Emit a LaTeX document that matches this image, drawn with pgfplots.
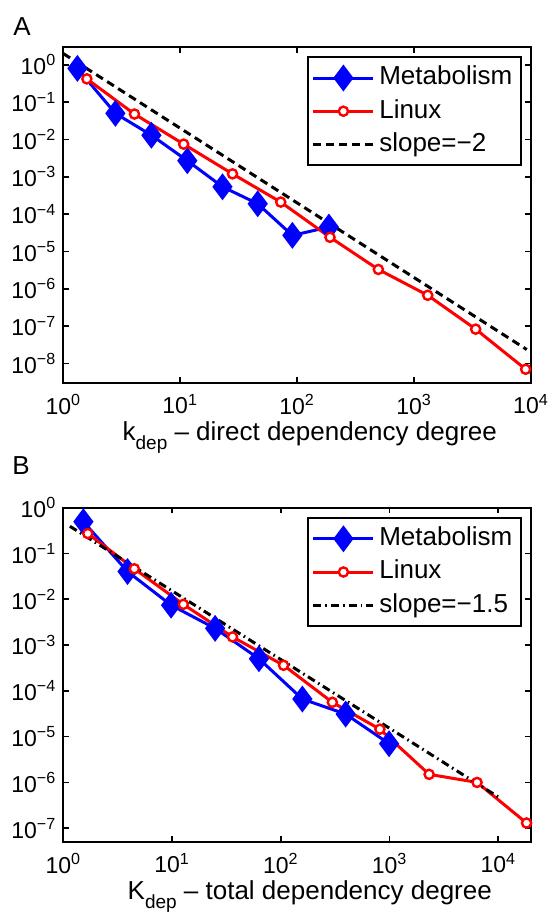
\documentclass[border=0pt]{standalone}
\usepackage{fontspec}
\setmainfont{Liberation Sans}
\usepackage{pgfplots}
\pgfplotsset{compat=1.18}
\pgfplotsset{
  metab/.style={color=blue, line width=1.5pt, mark=diamond*, mark size=5.5pt, mark options={solid, fill=blue}},
  linux/.style={color=red, line width=1.5pt, mark=*, mark size=2.3pt, mark options={solid, fill=white, line width=1.2pt}},
}
\newcommand{\sub}[1]{\raisebox{-4.5pt}{\fontsize{9.5}{10}\selectfont #1}}
\begin{document}
\begin{tikzpicture}
\useasboundingbox (0pt,0pt) rectangle (277pt,-456.5pt);
% Panel A
\begin{axis}[at={(31.65pt,-23.5pt)}, anchor=north west,
  scale only axis, width=233.85pt, height=168pt,
  xmode=log, ymode=log, log basis x=10, log basis y=10,
  axis line style={line width=1pt},
  tick align=inside,
  major tick length=3pt, minor tick length=1.8pt,
  every tick/.style={black, line width=0.8pt},
  yminorticks=false,
  tick label style={font=\fontsize{11.5}{13}\selectfont},
  xticklabel style={yshift=-2pt},
  label style={font=\fontsize{13}{15}\selectfont},
  xlabel style={at={(axis description cs:0.527,0)}, anchor=north, yshift=-15.7pt},
  legend style={font=\fontsize{13}{15}\selectfont, draw=black, line width=1pt,
    at={(0.98,0.972)}, anchor=north east,
    inner xsep=2pt, inner ysep=2pt,
    nodes={inner sep=2.2pt, text height=9.5pt, text depth=2.7pt}},
  legend cell align=left,
  legend image code/.code={\draw[mark repeat=2,mark phase=2,#1] plot coordinates {(0pt,0pt)(15pt,0pt)(30pt,0pt)};},
  xmin=1, xmax=10000, ymin=3e-9, ymax=3,
  xtick={1,10,100,1000,10000},
  xticklabels={10\textsuperscript{0},10\textsuperscript{1},10\textsuperscript{2},10\textsuperscript{3},10\textsuperscript{4}},
  ytick={1e-8,1e-7,1e-6,1e-5,1e-4,1e-3,1e-2,1e-1,1},
  yticklabels={10\textsuperscript{−8},10\textsuperscript{−7},10\textsuperscript{−6},10\textsuperscript{−5},10\textsuperscript{−4},10\textsuperscript{−3},10\textsuperscript{−2},10\textsuperscript{−1},10\textsuperscript{0}},
  xlabel={k\sub{dep} – direct dependency degree},
]
\addplot[metab] coordinates {(1.32,0.8) (2.79,0.05) (5.67,0.013) (11.5,0.0027) (23,5.4e-4) (46,1.9e-4) (91,2.7e-5) (187,4.5e-5)};
\addlegendentry{Metabolism}
\addplot[linux] coordinates {(1.59,0.42) (4.06,0.048) (10.7,0.0075) (28,1.2e-3) (72.4,2.1e-4) (191,2.4e-5) (495,3.3e-6) (1309,6.7e-7) (3365,8.3e-8) (9000,7e-9)};
\addlegendentry{Linux}
\addplot[black, line width=1.5pt, dash pattern=on 4pt off 2.5pt] coordinates {(1,2) (9200,2.36e-8)};
\addlegendentry{slope=−2}
\end{axis}
\node[font=\fontsize{13}{15}\selectfont] at (11pt,-13.25pt) {A};
% Panel B
\begin{axis}[at={(31.65pt,-253.75pt)}, anchor=north west,
  scale only axis, width=233.85pt, height=167.25pt,
  xmode=log, ymode=log, log basis x=10, log basis y=10,
  axis line style={line width=1pt},
  tick align=inside,
  major tick length=3pt, minor tick length=1.8pt,
  every tick/.style={black, line width=0.8pt},
  yminorticks=false,
  tick label style={font=\fontsize{11.5}{13}\selectfont},
  xticklabel style={yshift=-2pt},
  label style={font=\fontsize{13}{15}\selectfont},
  xlabel style={at={(axis description cs:0.527,0)}, anchor=north, yshift=-15.7pt},
  legend style={font=\fontsize{13}{15}\selectfont, draw=black, line width=1pt,
    at={(0.98,0.971)}, anchor=north east,
    inner xsep=2pt, inner ysep=2pt,
    nodes={inner sep=2.2pt, text height=9.5pt, text depth=2.7pt}},
  legend cell align=left,
  legend image code/.code={\draw[mark repeat=2,mark phase=2,#1] plot coordinates {(0pt,0pt)(15pt,0pt)(30pt,0pt)};},
  xmin=1, xmax=20000, ymin=5e-8, ymax=1,
  xtick={1,10,100,1000,10000},
  xticklabels={10\textsuperscript{0},10\textsuperscript{1},10\textsuperscript{2},10\textsuperscript{3},10\textsuperscript{4}},
  ytick={1e-7,1e-6,1e-5,1e-4,1e-3,1e-2,1e-1,1},
  yticklabels={10\textsuperscript{−7},10\textsuperscript{−6},10\textsuperscript{−5},10\textsuperscript{−4},10\textsuperscript{−3},10\textsuperscript{−2},10\textsuperscript{−1},10\textsuperscript{0}},
  xlabel={K\sub{dep} – total dependency degree},
]
\addplot[metab] coordinates {(1.53,0.49) (3.9,0.04) (9.8,0.0074) (24.9,0.0023) (63,5e-4) (158,6.6e-5) (395,3.1e-5) (990,7e-6)};
\addlegendentry{Metabolism}
\addplot[linux] coordinates {(1.68,0.27) (4.5,0.046) (12.7,0.0077) (36,0.0015) (106,3.6e-4) (298,5.6e-5) (815,1.45e-5) (2312,1.5e-6) (6380,1.0e-6) (18200,1.3e-7)};
\addlegendentry{Linux}
\addplot[black, line width=1.5pt, dash pattern=on 4pt off 2pt on 0.8pt off 2pt] coordinates {(1.15,0.389) (10000,4.8e-7)};
\addlegendentry{slope=−1.5}
\end{axis}
\node[font=\fontsize{13}{15}\selectfont] at (10.5pt,-233pt) {B};
\end{tikzpicture}
\end{document}
